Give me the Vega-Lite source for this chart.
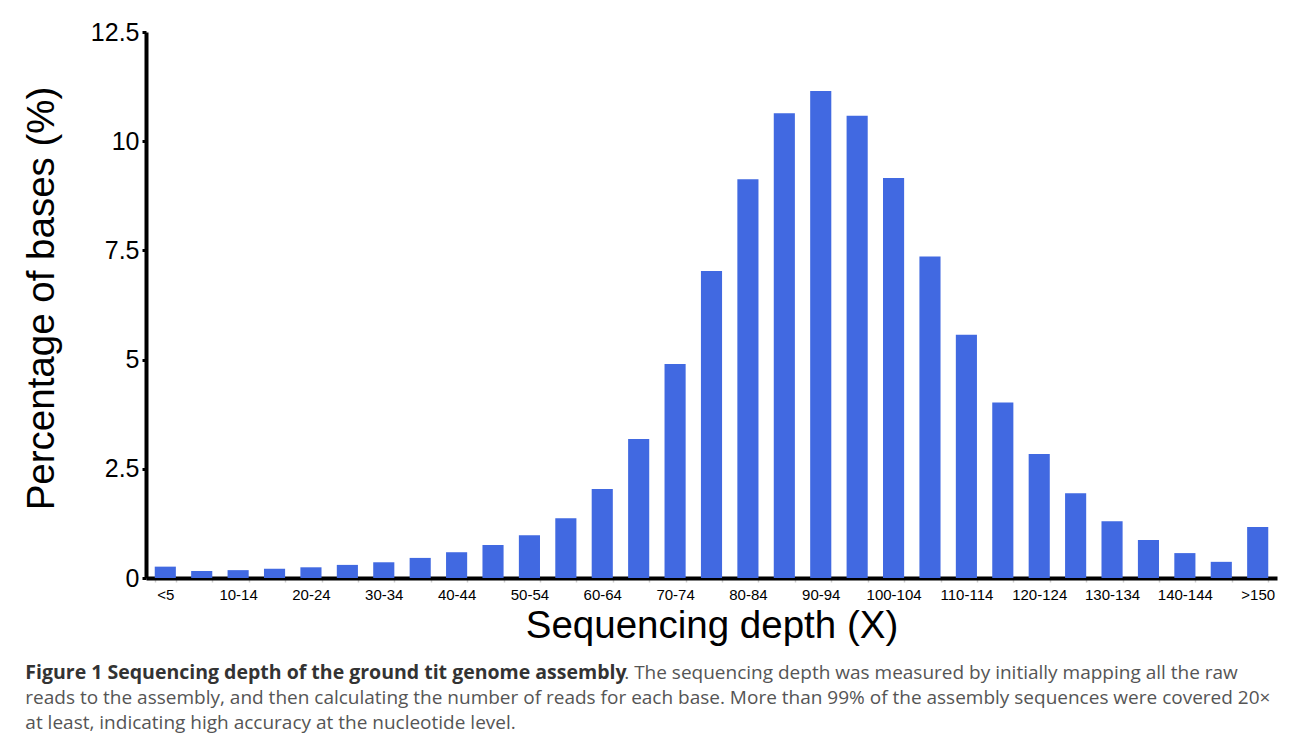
{
  "$schema": "https://vega.github.io/schema/vega-lite/v6.json",
  "width": 1131,
  "height": 546,
  "padding": {"left": 22, "top": 20, "right": 10, "bottom": 0},
  "autosize": {"type": "pad"},
  "background": "white",
  "title": {
    "text": "Figure 1 Sequencing depth of the ground tit genome assembly",
    "subtitle": [
      "\u200b\u2003\u2003\u2003\u2003\u2003\u2003\u2003\u2003\u2003\u2003\u2003\u2003\u2003\u2003\u2003\u2003\u2003\u2003\u2003\u2003\u2003\u2003\u2003\u2003\u2003\u2003\u2003\u2003\u2003\u2003\u2003\u00a0\u00a0. The sequencing depth was measured by initially mapping all the raw",
      "reads to the assembly, and then calculating the number of reads for each base. More than 99% of the assembly sequences were covered 20\u00d7",
      "at least, indicating high accuracy at the nucleotide level."
    ],
    "orient": "bottom",
    "anchor": "start",
    "frame": "bounds",
    "offset": 19,
    "dx": 3,
    "font": "Open Sans",
    "fontSize": 19.5,
    "fontWeight": "bold",
    "color": "#333333",
    "subtitleFont": "Open Sans",
    "subtitleFontSize": 19,
    "subtitleColor": "#555555",
    "subtitleLineHeight": 25,
    "subtitlePadding": -19.5
  },
  "data": {
    "values": [
      {"depth": "<5", "pct": 0.26},
      {"depth": "5-9", "pct": 0.16},
      {"depth": "10-14", "pct": 0.18},
      {"depth": "15-19", "pct": 0.21},
      {"depth": "20-24", "pct": 0.245},
      {"depth": "25-29", "pct": 0.30},
      {"depth": "30-34", "pct": 0.36},
      {"depth": "35-39", "pct": 0.46},
      {"depth": "40-44", "pct": 0.59},
      {"depth": "45-49", "pct": 0.755},
      {"depth": "50-54", "pct": 0.98},
      {"depth": "55-59", "pct": 1.37},
      {"depth": "60-64", "pct": 2.04},
      {"depth": "65-69", "pct": 3.18},
      {"depth": "70-74", "pct": 4.90},
      {"depth": "75-79", "pct": 7.03},
      {"depth": "80-84", "pct": 9.13},
      {"depth": "85-89", "pct": 10.64},
      {"depth": "90-94", "pct": 11.15},
      {"depth": "95-99", "pct": 10.58},
      {"depth": "100-104", "pct": 9.16},
      {"depth": "105-109", "pct": 7.36},
      {"depth": "110-114", "pct": 5.57},
      {"depth": "115-119", "pct": 4.02},
      {"depth": "120-124", "pct": 2.84},
      {"depth": "125-129", "pct": 1.94},
      {"depth": "130-134", "pct": 1.30},
      {"depth": "135-139", "pct": 0.87},
      {"depth": "140-144", "pct": 0.57},
      {"depth": "145-149", "pct": 0.37},
      {"depth": ">150", "pct": 1.17}
    ]
  },
  "mark": {"type": "bar", "color": "#4169E1"},
  "encoding": {
    "x": {
      "field": "depth",
      "type": "ordinal",
      "sort": null,
      "scale": {"paddingInner": 0.42, "paddingOuter": 0.24},
      "axis": {
        "title": "Sequencing depth (X)",
        "labelAngle": 0,
        "labelOverlap": false,
        "labelExpr": "test(/^(<5|>150|[0-9]*0-)/, datum.value) ? datum.label : ''",
        "labelFont": "Liberation Sans",
        "labelFontSize": 15,
        "labelColor": "#000000",
        "labelPadding": 5,
        "tickBand": "extent",
        "tickColor": "#cccccc",
        "tickSize": 4,
        "tickWidth": 1.5,
        "domainColor": "#000000",
        "domainWidth": 4,
        "titleFont": "Liberation Sans",
        "titleFontSize": 38.5,
        "titleFontWeight": "normal",
        "titleColor": "#000000",
        "titlePadding": 5
      }
    },
    "y": {
      "field": "pct",
      "type": "quantitative",
      "scale": {"domain": [0, 12.5], "nice": false},
      "axis": {
        "title": "Percentage of bases (%)",
        "values": [0, 2.5, 5, 7.5, 10, 12.5],
        "format": ".1~f",
        "grid": false,
        "labelFont": "Liberation Sans",
        "labelFontSize": 25,
        "labelColor": "#000000",
        "labelPadding": 3,
        "tickColor": "#000000",
        "tickSize": 4,
        "tickWidth": 3,
        "domainColor": "#000000",
        "domainWidth": 4,
        "titleFont": "Liberation Sans",
        "titleFontSize": 38.5,
        "titleFontWeight": "normal",
        "titleColor": "#000000",
        "titlePadding": 29,
        "titleY": 266
      }
    }
  },
  "config": {
    "view": {"stroke": null}
  }
}
